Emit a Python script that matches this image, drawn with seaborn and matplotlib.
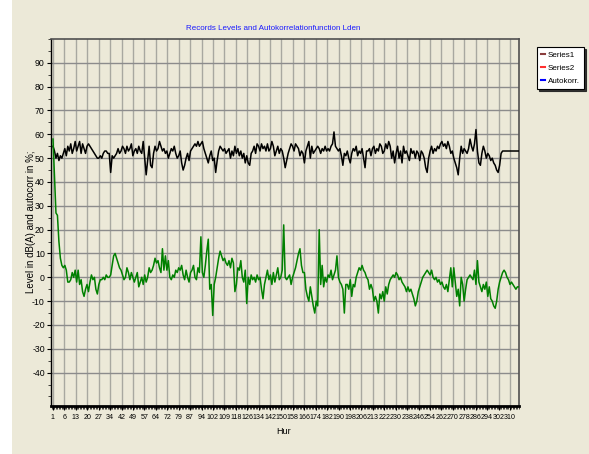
import numpy as np
import pandas as pd
import matplotlib
matplotlib.use("Agg")
import matplotlib.pyplot as plt
import seaborn as sns
from matplotlib.lines import Line2D
from matplotlib.patches import Rectangle
from matplotlib.ticker import MultipleLocator, FixedLocator


hour_labels = ["1", "6", "13", "20", "27", "34", "42", "49", "57", "64", "72",
               "79", "87", "94", "102", "109", "118", "126", "134", "142", "150",
               "158", "166", "174", "182", "190", "198", "206", "213", "222", "230",
               "238", "246", "254", "262", "270", "278", "286", "294", "302", "310"]

# Series1 - hourly level in dB(A)
level = [55, 53, 50, 52, 49, 51, 50, 52, 54, 51,
         55, 53, 56, 52, 54, 57, 53, 55, 57, 52,
         56, 54, 52, 55, 56, 55, 54, 53, 52, 51,
         50, 50, 51, 50, 52, 53, 53, 52, 52, 44,
         51, 50, 51, 52, 54, 52, 53, 55, 54, 52,
         55, 53, 54, 56, 51, 53, 54, 52, 55, 53,
         52, 57, 50, 43, 49, 55, 47, 46, 52, 55,
         53, 54, 57, 55, 53, 54, 52, 53, 50, 52,
         54, 53, 55, 52, 50, 51, 53, 48, 45, 47,
         50, 52, 49, 53, 54, 55, 56, 55, 57, 55,
         56, 57, 54, 52, 50, 48, 51, 53, 49, 50,
         44, 49, 53, 55, 54, 53, 54, 52, 53, 54,
         50, 53, 51, 55, 52, 54, 51, 53, 50, 52,
         48, 51, 48, 47, 52, 53, 55, 52, 56, 55,
         53, 56, 54, 55, 53, 56, 53, 54, 57, 55,
         51, 53, 55, 52, 54, 53, 50, 46, 49, 52,
         54, 56, 55, 53, 56, 55, 54, 51, 53, 52,
         48, 53, 55, 57, 50, 55, 52, 53, 54, 55,
         54, 52, 54, 53, 55, 53, 54, 53, 55, 56,
         61, 55, 54, 53, 54, 51, 47, 52, 51, 53,
         50, 48, 52, 54, 53, 55, 51, 53, 52, 54,
         50, 46, 53, 53, 54, 51, 54, 55, 52, 54,
         53, 56, 55, 52, 53, 56, 54, 57, 55, 50,
         53, 48, 52, 55, 50, 53, 48, 55, 52, 53,
         51, 49, 54, 52, 53, 50, 53, 52, 49, 53,
         52, 50, 46, 44, 50, 53, 55, 52, 54, 53,
         55, 54, 56, 57, 55, 56, 54, 57, 55, 52,
         53, 50, 48, 46, 43, 50, 55, 52, 54, 53,
         52, 54, 58, 55, 53, 56, 62, 53, 48, 47,
         52, 55, 53, 50, 52, 51, 49, 50, 48, 47,
         45, 44, 47, 52, 53, 53, 53, 53, 53, 53,
         53, 53, 53, 53, 53, 53]

# Autocorrelation in %
autocorr = [58, 42, 27, 26, 15, 8, 5, 4, 5, 3,
            -2, -2, -1, 2, 0, 3, -2, 3, -3, -1,
            -6, -8, -5, -3, -6, -2, 1, -1, 0, -5,
            -7, -3, -1, -1, 0, -1, 1, 0, 0, 1,
            5, 9, 10, 8, 6, 4, 3, 1, -1, 0,
            4, 2, -1, 2, 0, -2, 0, 2, -4, -2,
            0, -3, 1, -2, 0, 4, 2, 3, 5, 8,
            6, 7, 4, 2, 12, 3, 9, 3, 7, 0,
            -1, 1, 0, 3, 2, 4, 3, 5, 1, -1,
            3, 0, -2, 2, 3, 5, 0, -1, 4, 2,
            17, 2, 0, 5, 11, 16, -5, -3, -16, -3,
            0, 4, 8, 11, 9, 7, 8, 6, 5, 7,
            4, 8, 6, -6, -3, 4, 3, 7, 0, -2,
            3, -11, 0, -3, 1, -1, 0, -2, 1, -1,
            0, -5, -9, -3, 0, 3, -1, 1, -3, 2,
            -2, 1, 4, -1, 0, 3, 22, 0, -1, 0,
            1, -3, 0, 2, 4, 7, 10, 12, 5, 2,
            2, -5, -8, -10, -4, -8, -12, -15, -10, -12,
            20, -3, 5, -4, 0, -2, 1, 0, 3, -1,
            1, 3, 9, 0, -2, -3, -5, -15, -3, -3,
            -5, -1, -8, -3, -4, 0, 2, 4, 3, 5,
            3, 2, 0, -1, -5, -3, -5, -10, -8, -10,
            -15, -7, -9, -6, -10, -4, -7, -3, -1, 0,
            1, 0, 2, 1, -1, 0, -2, -3, -4, -6,
            -4, -6, -5, -7, -9, -12, -10, -6, -4, -2,
            0, 1, 2, 3, 2, 1, 3, 0, -1, 0,
            -2, -1, -3, -2, -4, -5, -3, -6, -1, 4,
            -4, 4, -2, -8, -5, -12, 0, -3, -10, -5,
            -1, 0, 1, 0, -1, 3, -3, 7, -2, -4,
            -6, -3, -5, -2, -8, -4, -9, -10, -12, -13,
            -10, -5, -2, 0, 2, 3, 2, 0, -1, -3,
            -2, -3, -4, -5, -4, -4]

legend_names = ["Series1", "Series2", "Autokorr."]
legend_colors = ["#8a3c3c", "#ff3030", "#0000ff"]

bg = "#ece9d8"
font = ["Liberation Sans", "DejaVu Sans"]

hours = np.arange(1, len(level) + 1)
df = pd.DataFrame({"hour": hours, "level": level, "autocorr": autocorr})

fig = plt.figure(figsize=(5.89, 4.54), dpi=100, facecolor="white")
fig.patches.append(Rectangle((12 / 589, 0), 1, 1, transform=fig.transFigure,
                             facecolor=bg, edgecolor="none", zorder=-10))
ax = fig.add_axes([51 / 589, 1 - 406 / 454, 468 / 589, 367 / 454])
ax.set_facecolor(bg)

sns.lineplot(data=df, x="hour", y="level", color="black", linewidth=1.1, ax=ax, zorder=3)
sns.lineplot(data=df, x="hour", y="autocorr", color="#008000", linewidth=1.1, ax=ax, zorder=3)

tick_pos = [1 + k * 309 / 40 for k in range(len(hour_labels))]
ax.set_xlim(-0.35, 316.1)
ax.set_ylim(-54, 100)
ax.xaxis.set_major_locator(FixedLocator(tick_pos))
ax.set_xticklabels(hour_labels, fontsize=5.1, family=font)
ax.xaxis.set_minor_locator(MultipleLocator(1))
ax.set_yticks(range(-40, 100, 10))
ax.set_yticklabels([str(v) for v in range(-40, 100, 10)], fontsize=6.3, family=font)
ax.yaxis.set_minor_locator(MultipleLocator(5))
ax.tick_params(axis="both", which="major", direction="out", length=3, width=0.8,
               pad=1.5, colors="black")
ax.tick_params(axis="x", which="major", pad=3)
ax.tick_params(axis="both", which="minor", direction="out", length=2, width=0.5)

ax.grid(True, which="major", axis="y", color="#8c8c8c", linewidth=1, zorder=0)
ax.grid(True, which="major", axis="x", color="#a8a8a0", linewidth=1, zorder=0)
ax.set_axisbelow(True)

for side in ["top", "right"]:
    ax.spines[side].set_color("#505050")
    ax.spines[side].set_linewidth(1.2)
ax.spines["left"].set_color("black")
ax.spines["left"].set_linewidth(1)
ax.spines["bottom"].set_color("black")
ax.spines["bottom"].set_linewidth(2)

ax.set_xlabel("")
ax.set_ylabel("")
fig.text(31 / 589, 1 - 222 / 454, "Level in dB(A) and autocorr in %;", rotation=90,
         ha="center", va="center", fontsize=7, family=font)
fig.text(284 / 589, 1 - 432 / 454, "Hur", ha="center", va="center", fontsize=6.5,
         family=font)
fig.text(273 / 589, 1 - 28 / 454, "Records Levels and Autokorrelationfunction Lden",
         ha="center", va="center", fontsize=5.8, color="#1a1aff", family=font)

handles = [Line2D([], [], color=c, linewidth=1.5) for c in legend_colors]
leg = fig.legend(handles, legend_names, loc="upper left",
                 bbox_to_anchor=(533 / 589, 1 - 43 / 454),
                 prop={"family": font, "size": 5.8}, handlelength=0.5,
                 handletextpad=0.3, borderpad=0.5, labelspacing=0.7,
                 fancybox=False, frameon=True,
                 shadow={"ox": 1.5, "oy": -1.5, "color": "#202020", "alpha": 0.9})
leg.get_frame().set_edgecolor("black")
leg.get_frame().set_facecolor("white")
leg.get_frame().set_linewidth(0.8)

fig.savefig("out.png", dpi=100, facecolor=fig.get_facecolor())
